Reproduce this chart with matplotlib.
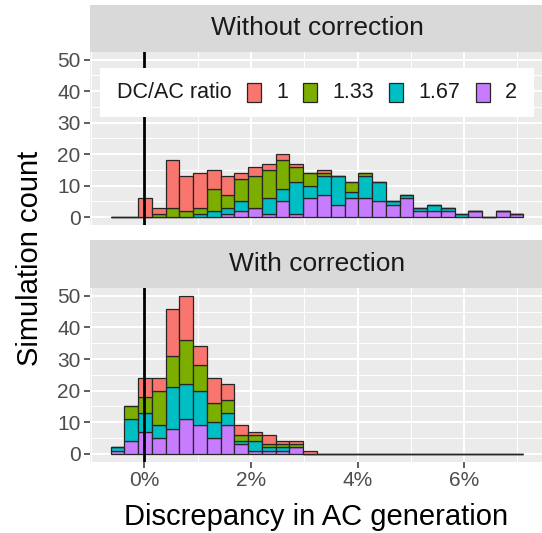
import numpy as np
import matplotlib

matplotlib.use("Agg")
import matplotlib.pyplot as plt
from matplotlib.patches import Rectangle
from matplotlib.offsetbox import AnchoredOffsetbox, DrawingArea, HPacker, TextArea

plt.rcParams["font.family"] = ["Liberation Sans", "DejaVu Sans"]

# histogram bins shared by both facets (x in percent)
BIN_LO = -0.63
BIN_W = 0.258
N_BINS = 30

ratios = ["1", "1.33", "1.67", "2"]
fills = ["#F8766D", "#7CAE00", "#00BFC4", "#C77CFF"]

# simulation counts per bin, one list per DC/AC ratio
without_r100 = [0, 0, 6, 2, 15, 11, 11, 6, 6, 2, 3, 2, 2, 1, 0, 1, 0, 0, 0, 0, 0, 0, 0, 0, 0, 0, 0, 0, 0, 0]
without_r133 = [0, 0, 0, 1, 3, 2, 2, 7, 4, 7, 10, 9, 9, 5, 4, 1, 0, 3, 1, 0, 0, 0, 0, 0, 0, 0, 0, 0, 0, 0]
without_r167 = [0, 0, 0, 0, 0, 0, 1, 2, 2, 3, 0, 5, 4, 10, 4, 6, 9, 2, 7, 6, 1, 1, 1, 2, 1, 1, 0, 0, 0, 0]
without_r200 = [0, 0, 0, 0, 0, 0, 0, 0, 1, 2, 3, 1, 5, 1, 6, 7, 4, 6, 6, 5, 4, 6, 2, 2, 2, 0, 2, 0, 2, 1]

with_r100 = [0, 0, 6, 4, 15, 14, 6, 8, 5, 3, 1, 3, 1, 1, 1, 0, 0, 0, 0, 0, 0, 0, 0, 0, 0, 0, 0, 0, 0, 0]
with_r133 = [0, 4, 5, 11, 10, 14, 8, 6, 4, 2, 2, 1, 1, 1, 0, 0, 0, 0, 0, 0, 0, 0, 0, 0, 0, 0, 0, 0, 0, 0]
with_r167 = [1, 7, 6, 4, 13, 11, 11, 5, 4, 1, 3, 1, 1, 0, 0, 0, 0, 0, 0, 0, 0, 0, 0, 0, 0, 0, 0, 0, 0, 0]
with_r200 = [1, 4, 7, 5, 8, 11, 9, 5, 9, 3, 1, 1, 1, 2, 0, 0, 0, 0, 0, 0, 0, 0, 0, 0, 0, 0, 0, 0, 0, 0]

facets = [
    ("Without correction", [without_r100, without_r133, without_r167, without_r200]),
    ("With correction", [with_r100, with_r133, with_r167, with_r200]),
]

W, H = 542, 533
fig = plt.figure(figsize=(W / 100, H / 100), dpi=100)


def px_axes(x0, y0, x1, y1):
    return fig.add_axes([x0 / W, 1 - y1 / H, (x1 - x0) / W, (y1 - y0) / H])


left_edges = BIN_LO + BIN_W * np.arange(N_BINS)
layout = [((90, 5, 544, 51.7), (90, 51.7, 544, 225)),
          ((90, 240, 544, 288), (90, 288, 544, 461.7))]

axes = []
for (title, series), (strip_box, panel_box) in zip(facets, layout):
    sax = px_axes(*strip_box)
    sax.set_facecolor("#D9D9D9")
    sax.set_xticks([])
    sax.set_yticks([])
    for s in sax.spines.values():
        s.set_visible(False)
    sax.text(0.5, 0.5, title, transform=sax.transAxes, ha="center", va="center",
             fontsize=19, color="#1A1A1A")

    ax = px_axes(*panel_box)
    ax.set_facecolor("#EBEBEB")
    for s in ax.spines.values():
        s.set_visible(False)

    # ggplot stacks the first level on top, so draw from the last level upward
    bottom = np.zeros(N_BINS)
    for vals, col in zip(series[::-1], fills[::-1]):
        vals = np.asarray(vals, dtype=float)
        ax.bar(left_edges, vals, width=BIN_W, bottom=bottom, align="edge",
               color=col, edgecolor="#262626", linewidth=0.9, zorder=3)
        bottom += vals
    ax.axvline(0, color="black", lw=2.0, zorder=4)

    ax.set_xlim(-1.017, 7.497)
    ax.set_ylim(-2.5, 52.5)
    ax.set_xticks([0, 2, 4, 6])
    ax.set_xticks([-1, 1, 3, 5, 7], minor=True)
    ax.set_yticks([0, 10, 20, 30, 40, 50])
    ax.set_yticks([5, 15, 25, 35, 45], minor=True)
    ax.grid(which="major", color="white", lw=1.45, zorder=1)
    ax.grid(which="minor", color="white", lw=0.75, zorder=1)
    ax.set_axisbelow(True)
    ax.tick_params(which="major", length=4.3, width=1.1, color="#333333",
                   labelsize=15, labelcolor="#4D4D4D", pad=2.5)
    ax.tick_params(which="minor", length=0)
    axes.append(ax)

ax_top, ax_bot = axes
ax_top.tick_params(axis="x", which="both", bottom=False, labelbottom=False)
ax_bot.set_xticklabels(["0%", "2%", "4%", "6%"])

# horizontal legend inside the upper panel
ax_top.add_patch(Rectangle((10 / 454, (225 - 117) / 173.3), 434 / 454, 49 / 173.3,
                           transform=ax_top.transAxes, facecolor="white",
                           edgecolor="none", zorder=5, clip_on=False))
items = [TextArea("DC/AC ratio", textprops=dict(size=15.5, color="#1A1A1A"))]
for lab, col in zip(ratios, fills):
    da = DrawingArea(10.1, 13.7, 0, 0)
    da.add_artist(Rectangle((0, 0), 10.1, 13.7, facecolor=col, edgecolor="#262626", lw=0.9))
    items.append(da)
    items.append(TextArea(lab, textprops=dict(size=15.5, color="#1A1A1A")))
pack = HPacker(children=items, align="center", pad=0, sep=11)
anch = AnchoredOffsetbox(loc="center", child=pack, frameon=False, pad=0, borderpad=0,
                         bbox_to_anchor=(317 / W, 1 - 92.5 / H),
                         bbox_transform=fig.transFigure)
anch.set_zorder(6)
ax_top.add_artist(anch)

fig.text(30 / W, 1 - 258 / H, "Simulation count", rotation=90, ha="center", va="center",
         fontsize=21, color="black")
fig.text(316 / W, 1 - 525 / H, "Discrepancy in AC generation", ha="center", va="baseline",
         fontsize=21, color="black")

fig.savefig("out.png", dpi=100)
plt.close(fig)
